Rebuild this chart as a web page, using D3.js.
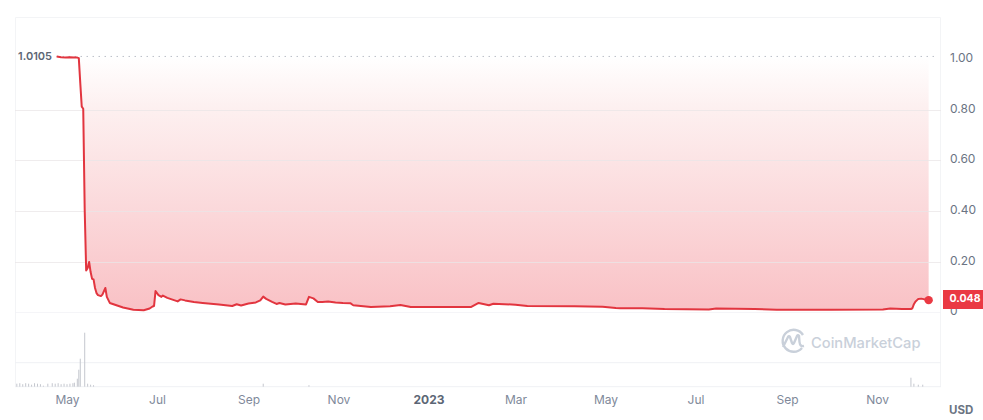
<!DOCTYPE html>
<html>
<head>
<meta charset="utf-8">
<style>
  html, body { margin: 0; padding: 0; background: #fff; }
  svg { display: block; font-family: Inter, "Noto Sans", sans-serif; }
</style>
<script src="https://cdn.jsdelivr.net/npm/d3@7/dist/d3.min.js"></script>
</head>
<body>
<svg id="chart" width="983" height="420"></svg>
<script>
// Daily closing price, USD
const priceDates = ["2022-04-24","2022-04-27","2022-04-30","2022-05-03","2022-05-06","2022-05-08","2022-05-09","2022-05-10","2022-05-11","2022-05-12","2022-05-13","2022-05-14","2022-05-15","2022-05-16","2022-05-17","2022-05-18","2022-05-19","2022-05-20","2022-05-21","2022-05-22","2022-05-24","2022-05-25","2022-05-27","2022-05-28","2022-05-30","2022-06-03","2022-06-08","2022-06-15","2022-06-22","2022-06-26","2022-06-28","2022-06-29","2022-06-30","2022-07-02","2022-07-04","2022-07-05","2022-07-08","2022-07-12","2022-07-15","2022-07-17","2022-07-20","2022-07-26","2022-08-01","2022-08-12","2022-08-21","2022-08-24","2022-08-27","2022-09-01","2022-09-06","2022-09-09","2022-09-11","2022-09-13","2022-09-17","2022-09-20","2022-09-22","2022-09-26","2022-10-03","2022-10-10","2022-10-12","2022-10-15","2022-10-18","2022-10-21","2022-10-25","2022-10-30","2022-11-04","2022-11-09","2022-11-11","2022-11-23","2022-12-06","2022-12-13","2022-12-20","2023-01-10","2023-01-30","2023-02-04","2023-02-11","2023-02-14","2023-03-01","2023-03-09","2023-04-10","2023-04-29","2023-05-08","2023-05-11","2023-05-26","2023-06-10","2023-07-10","2023-07-15","2023-08-10","2023-08-25","2023-10-01","2023-11-05","2023-11-10","2023-11-18","2023-11-24","2023-11-25","2023-11-26","2023-11-27","2023-11-29","2023-12-01","2023-12-06"];
const priceValues = [1.0105,1.007,1.006,1.007,1.006,1.006,1.004,0.905,0.812,0.804,0.405,0.165,0.175,0.199,0.159,0.132,0.13,0.096,0.076,0.068,0.064,0.07,0.096,0.061,0.037,0.029,0.019,0.01,0.008,0.015,0.023,0.025,0.084,0.068,0.061,0.066,0.057,0.049,0.043,0.051,0.047,0.041,0.037,0.031,0.025,0.032,0.027,0.035,0.039,0.047,0.062,0.053,0.041,0.033,0.037,0.031,0.035,0.031,0.061,0.055,0.041,0.041,0.043,0.039,0.037,0.036,0.028,0.021,0.024,0.029,0.021,0.021,0.021,0.037,0.028,0.034,0.03,0.025,0.024,0.022,0.017,0.016,0.016,0.013,0.011,0.015,0.013,0.01,0.01,0.011,0.015,0.013,0.013,0.016,0.032,0.042,0.053,0.054,0.048];

// Traded volume, arbitrary units
const volumeDates = ["2022-03-28","2022-03-30","2022-04-01","2022-04-03","2022-04-05","2022-04-07","2022-04-09","2022-04-11","2022-04-13","2022-04-15","2022-04-18","2022-04-21","2022-04-23","2022-04-25","2022-04-27","2022-04-29","2022-05-01","2022-05-03","2022-05-05","2022-05-06","2022-05-08","2022-05-09","2022-05-10","2022-05-13","2022-05-15","2022-05-17","2022-05-19","2022-09-11","2022-10-12","2023-11-24","2023-11-26","2023-11-29","2023-12-02"];
const volumeValues = [0.3,0.35,0.25,0.35,0.3,0.2,0.35,0.3,0.25,0.1,0.3,0.35,0.3,0.35,0.25,0.3,0.25,0.3,0.35,0.4,0.8,1.7,2.8,5.4,0.3,0.2,0.15,0.3,0.15,0.9,0.3,0.2,0.2];

const yTicks = [0, 0.2, 0.4, 0.6, 0.8, 1];
const monthTicks = ["2022-05-01","2022-07-01","2022-09-01","2022-11-01","2023-01-01","2023-03-01","2023-05-01","2023-07-01","2023-09-01","2023-11-01"];
const highValue = 1.0105;
const lastValue = 0.048;

const parse = d3.utcParse("%Y-%m-%d");
const prices = priceDates.map((d, i) => ({ date: parse(d), value: priceValues[i] }));
const volumes = volumeDates.map((d, i) => ({ date: parse(d), value: volumeValues[i] }));

const svg = d3.select("#chart");
const frame = { left: 15, right: 941, top: 17, bottom: 387 };

const x = d3.scaleUtc()
  .domain([parse("2022-05-01"), parse("2023-11-01")])
  .range([67, 877]);
const y = d3.scaleLinear().domain([0, 1]).range([312.3, 59.1]);
const yVolume = d3.scaleLinear().domain([0, 5.4]).range([386.7, 332.7]);

const red = "#e2353f";
const gridColor = "#eff1f4";

const defs = svg.append("defs");
const fillGradient = defs.append("linearGradient")
  .attr("id", "priceFill")
  .attr("gradientUnits", "userSpaceOnUse")
  .attr("x1", 0).attr("x2", 0)
  .attr("y1", y(highValue)).attr("y2", y(0));
fillGradient.append("stop").attr("offset", 0).attr("stop-color", "#ffffff");
fillGradient.append("stop").attr("offset", 0.2).attr("stop-color", "#fdf0f0");
fillGradient.append("stop").attr("offset", 1).attr("stop-color", "#f9c1c5");

// Frame around the plotting region
svg.append("path")
  .attr("d", `M${frame.left + 0.5},${frame.bottom} V${frame.top + 0.5} H${frame.right - 0.5} V${frame.bottom}`)
  .attr("fill", "none").attr("stroke", "#f3f4f6");

// Shading between the all-time high and the price line
const area = d3.area().x(d => x(d.date)).y0(y(highValue)).y1(d => y(d.value));
svg.append("path").datum(prices).attr("d", area).attr("fill", "url(#priceFill)");

// Horizontal grid, price panel and volume panel
svg.append("g").selectAll("line")
  .data(yTicks.filter(t => t < 1))
  .join("line")
  .attr("x1", frame.left).attr("x2", frame.right)
  .attr("y1", d => Math.round(y(d)) + 0.5).attr("y2", d => Math.round(y(d)) + 0.5)
  .attr("stroke", d => d === 0 ? "#f1f2f5" : "#e9e5e7")
  .attr("stroke-opacity", 0.75);
svg.append("line")
  .attr("x1", frame.left).attr("x2", frame.right)
  .attr("y1", yVolume(2.4)).attr("y2", yVolume(2.4))
  .attr("stroke", gridColor);
svg.append("line")
  .attr("x1", frame.left).attr("x2", frame.right)
  .attr("y1", yVolume(0)).attr("y2", yVolume(0))
  .attr("stroke", gridColor);

// Dotted marker at the all-time high
svg.append("line")
  .attr("x1", x(prices[0].date)).attr("x2", 938)
  .attr("y1", y(highValue)).attr("y2", y(highValue))
  .attr("stroke", "#9aa1ad").attr("stroke-width", 1)
  .attr("stroke-dasharray", "1 5");

// Volume bars
svg.append("g").selectAll("line")
  .data(volumes)
  .join("line")
  .attr("x1", d => x(d.date)).attr("x2", d => x(d.date))
  .attr("y1", yVolume(0)).attr("y2", d => yVolume(d.value))
  .attr("stroke", "#c4c7ce").attr("stroke-width", 1);

// Price line and closing dot
const line = d3.line().x(d => x(d.date)).y(d => y(d.value));
svg.append("path").datum(prices)
  .attr("d", line)
  .attr("fill", "none")
  .attr("stroke", red)
  .attr("stroke-width", 2)
  .attr("stroke-linejoin", "round");
const last = prices[prices.length - 1];
svg.append("circle")
  .attr("cx", x(last.date)).attr("cy", y(lastValue)).attr("r", 4.2)
  .attr("fill", "#ea3943");

// Price axis
const yAxis = d3.axisRight(y)
  .tickValues(yTicks)
  .tickSize(0)
  .tickPadding(0)
  .tickFormat(d => d === 0 ? "0" : d3.format(".2f")(d));
const yAxisG = svg.append("g").attr("transform", "translate(950,-1.5)").call(yAxis);
yAxisG.select(".domain").remove();
yAxisG.selectAll("text")
  .attr("fill", "#6b7483")
  .attr("font-size", 12)
  .attr("font-family", "Inter, sans-serif");

// Time axis
const xAxis = d3.axisBottom(x)
  .tickValues(monthTicks.map(parse))
  .tickSize(0)
  .tickPadding(0)
  .tickFormat(d => d.getUTCMonth() === 0 ? d3.utcFormat("%Y")(d) : d3.utcFormat("%b")(d));
const xAxisG = svg.append("g").attr("transform", "translate(0,395)").call(xAxis);
xAxisG.select(".domain").remove();
xAxisG.selectAll("text")
  .attr("fill", d => d.getUTCMonth() === 0 ? "#5c6675" : "#80899a")
  .attr("font-weight", d => d.getUTCMonth() === 0 ? 700 : 400)
  .attr("font-size", 12)
  .attr("font-family", "Inter, sans-serif");

// High label on the left of the line
svg.append("text")
  .attr("x", 52).attr("y", y(highValue) + 1)
  .attr("text-anchor", "end").attr("dominant-baseline", "middle")
  .attr("fill", "#5c6675").attr("font-size", 11).attr("font-weight", 600)
  .text(d3.format(".4f")(highValue));

// Closing price tag
svg.append("rect")
  .attr("x", 943).attr("y", 290).attr("width", 40).attr("height", 19)
  .attr("fill", "#ea3943");
svg.append("text")
  .attr("x", 965).attr("y", 299)
  .attr("text-anchor", "middle").attr("dominant-baseline", "middle")
  .attr("fill", "#fff").attr("font-size", 10.5).attr("font-weight", 700)
  .text(lastValue);

// Currency
svg.append("text")
  .attr("x", 949).attr("y", 414)
  .attr("fill", "#6b7483").attr("font-size", 11.5).attr("font-weight", 700)
  .text("USD");

// Brand mark and wordmark
const brand = svg.append("g").attr("fill", "none").attr("stroke", "#c9d0da").attr("stroke-width", 2.4);
brand.append("path")
  .attr("d", "M802,348 A11,11 0 1 1 803,335 M783,347 L788,337 Q789,335.5 790,337 L792,343 Q793,345 794,343 L797,336 Q798,334.5 799,336 L799.5,342 Q800,347 804,346");
svg.append("text")
  .attr("x", 811).attr("y", 348)
  .attr("fill", "#c9d0da").attr("font-size", 14.7).attr("font-weight", 500)
  .text("CoinMarketCap");
</script>
</body>
</html>
